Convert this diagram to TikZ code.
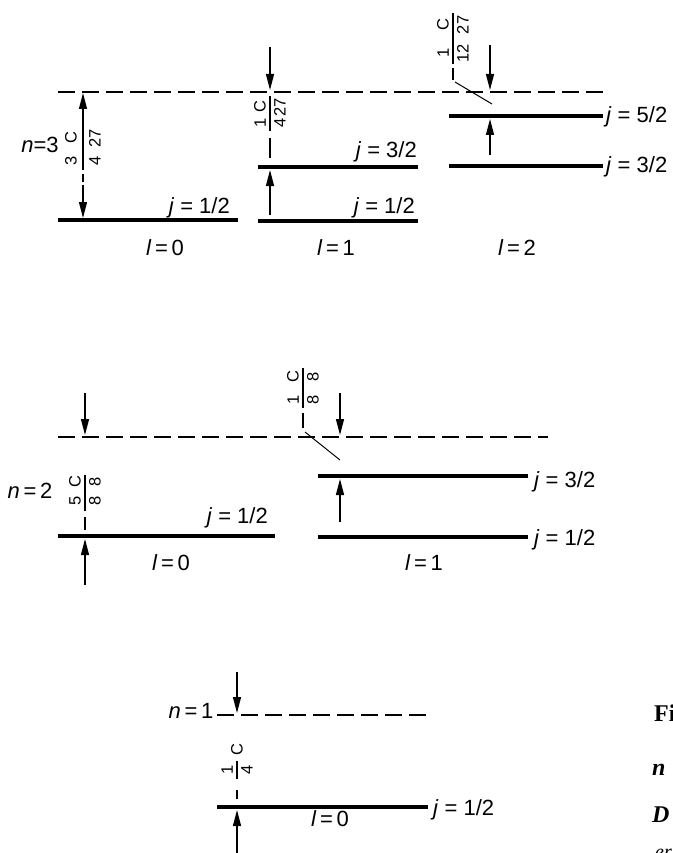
\documentclass[tikz,border=0pt]{standalone}
\usepackage{fontspec}
\setmainfont{Liberation Sans}
\newfontfamily\capfont{Liberation Serif}
\usetikzlibrary{arrows.meta}
\newcommand{\jval}[1]{\textit{j}\;=\;#1}
\newcommand{\lval}[1]{\textit{l}\,=\,#1}
\tikzset{
  lv limit/.style={line width=1.4pt,dash pattern=on 17pt off 7pt},
  lv level/.style={line width=4.5pt},
  lv arrow/.style={line width=1.3pt,-{Triangle[length=16pt,width=8pt]}},
  lv dash/.style={line width=1.3pt},
  lv lead/.style={line width=1pt},
  lv fr/.style={font=\fontsize{16.5}{19}\selectfont,rotate=90,inner sep=0pt},
  lv num/.style={lv fr,anchor=south},
  lv den/.style={lv fr,anchor=north},
  lv cap/.style={font=\capfont\bfseries\fontsize{24}{28}\selectfont,inner sep=0pt,anchor=base west}
}
\begin{document}
\begin{tikzpicture}[x=1pt,y=-1pt,font=\fontsize{22}{26}\selectfont,inner sep=0pt]
  \useasboundingbox (0,0) rectangle (672,853);
  % n = 3
  \begin{scope}
    \draw[lv limit] (58,92)--(605,92);
    \foreach \xa/\xb/\y in {58/238/220,258/418/221,258/418/167,449/603/116,449/603/166}{\draw[lv level] (\xa,\y)--(\xb,\y);}
    \node[anchor=base] (n3) at (40,153) {\textit{n}=3};
    \node[anchor=base east] (n3l0j1) at (230,213) {\jval{1/2}};
    \node[anchor=base east] (n3l1j3) at (417,158) {\jval{3/2}};
    \node[anchor=base east] (n3l1j1) at (415,213) {\jval{1/2}};
    \node[anchor=base west] (n3l2j5) at (606,123) {\jval{5/2}};
    \node[anchor=base west] (n3l2j3) at (606,173) {\jval{3/2}};
    \foreach \x/\lab in {165/0,336/1,517/2}{\node[anchor=base] (n3l\lab) at (\x,255) {\lval{\lab}};}
    % 3/4 C/27
    \foreach \y/\num/\den [count=\i] in {138/C/27,161/3/4}{
      \node[lv num] (a\i n) at (77,\y) {\num};
      \node[lv den] (a\i d) at (89,\y) {\den};}
    \draw[lv arrow] (83,170)--(83,93);
    \draw[lv dash] (83,174)--(83,182);
    \draw[lv arrow] (83,185)--(83,218);
    % 1/4 C/27
    \foreach \y/\num/\den [count=\i] in {107/C/27,123/1/4}{
      \node[lv num] (b\i n) at (266,\y) {\num};
      \node[lv den] (b\i d) at (274,\y) {\den};}
    \draw[lv dash] (270,96)--(270,131);
    \draw[lv dash] (270,138)--(270,158);
    \draw[lv arrow] (270,47)--(270,90);
    \draw[lv arrow] (270,215)--(270,170);
    % 1/12 C/27
    \foreach \y/\num/\den [count=\i] in {25/C/27,53/1/12}{
      \node[lv num] (c\i n) at (449,\y) {\num};
      \node[lv den] (c\i d) at (457,\y) {\den};}
    \draw[lv dash] (453,13)--(453,64);
    \draw[lv dash] (453,68)--(453,80);
    \draw[lv lead] (455,82)--(492,104);
    \draw[lv arrow] (490,45)--(490,90);
    \draw[lv arrow] (490,155)--(490,119);
  \end{scope}
  % n = 2
  \begin{scope}
    \draw[lv limit] (58,437)--(548,437);
    \foreach \xa/\xb/\y in {58/275/536,318/528/476,318/528/537}{\draw[lv level] (\xa,\y)--(\xb,\y);}
    \node[anchor=base] (n2) at (30,498) {\textit{n}\,=\,2};
    \node[anchor=base east] (n2l0j1) at (268,523) {\jval{1/2}};
    \node[anchor=base west] (n2l1j3) at (534,487) {\jval{3/2}};
    \node[anchor=base west] (n2l1j1) at (534,545) {\jval{1/2}};
    \foreach \x/\lab in {171/0,424/1}{\node[anchor=base] (n2l\lab) at (\x,570) {\lval{\lab}};}
    % 5/8 C/8
    \foreach \y/\num/\den [count=\i] in {482/C/8,501/5/8}{
      \node[lv num] (d\i n) at (81,\y) {\num};
      \node[lv den] (d\i d) at (89,\y) {\den};}
    \draw[lv dash] (85,475)--(85,511);
    \draw[lv dash] (85,517)--(85,530);
    \draw[lv arrow] (85,393)--(85,435);
    \draw[lv arrow] (85,585)--(85,539);
    % 1/8 C/8
    \foreach \y/\num/\den [count=\i] in {377/C/8,400/1/8}{
      \node[lv num] (e\i n) at (299,\y) {\num};
      \node[lv den] (e\i d) at (307,\y) {\den};}
    \draw[lv dash] (303,368)--(303,408);
    \draw[lv dash] (303,413)--(303,428);
    \draw[lv lead] (305,432)--(340,460);
    \draw[lv arrow] (340,393)--(340,435);
    \draw[lv arrow] (340,522)--(340,479);
  \end{scope}
  % n = 1
  \begin{scope}
    \draw[lv limit] (217,715)--(428,715);
    \draw[lv level] (217,807)--(428,807);
    \node[anchor=base] (n1) at (191,718) {\textit{n}\,=\,1};
    \node[anchor=base west] (n1l0j1) at (433,815) {\jval{1/2}};
    \node[anchor=base] (n1l0) at (330,826) {\lval{0}};
    % 1/4 C
    \node[lv fr] (f1) at (237,750) {C};
    \node[lv num] (f2n) at (233,770) {1};
    \node[lv den] (f2d) at (241,770) {4};
    \draw[lv dash] (237,761)--(237,779);
    \draw[lv dash] (237,790)--(237,799);
    \draw[lv arrow] (237,672)--(237,713);
    \draw[lv arrow] (237,853)--(237,810);
  \end{scope}
  % caption, cut at the edge
  \node[lv cap] (capfig) at (654,721) {Fi};
  \node[lv cap] (capn) at (652,775) {\itshape n};
  \node[lv cap] (capd) at (652,822) {\itshape D};
  \node[anchor=base west,font=\capfont\fontsize{20}{24}\selectfont] (caper) at (655,858) {\itshape er};
\end{tikzpicture}
\end{document}
